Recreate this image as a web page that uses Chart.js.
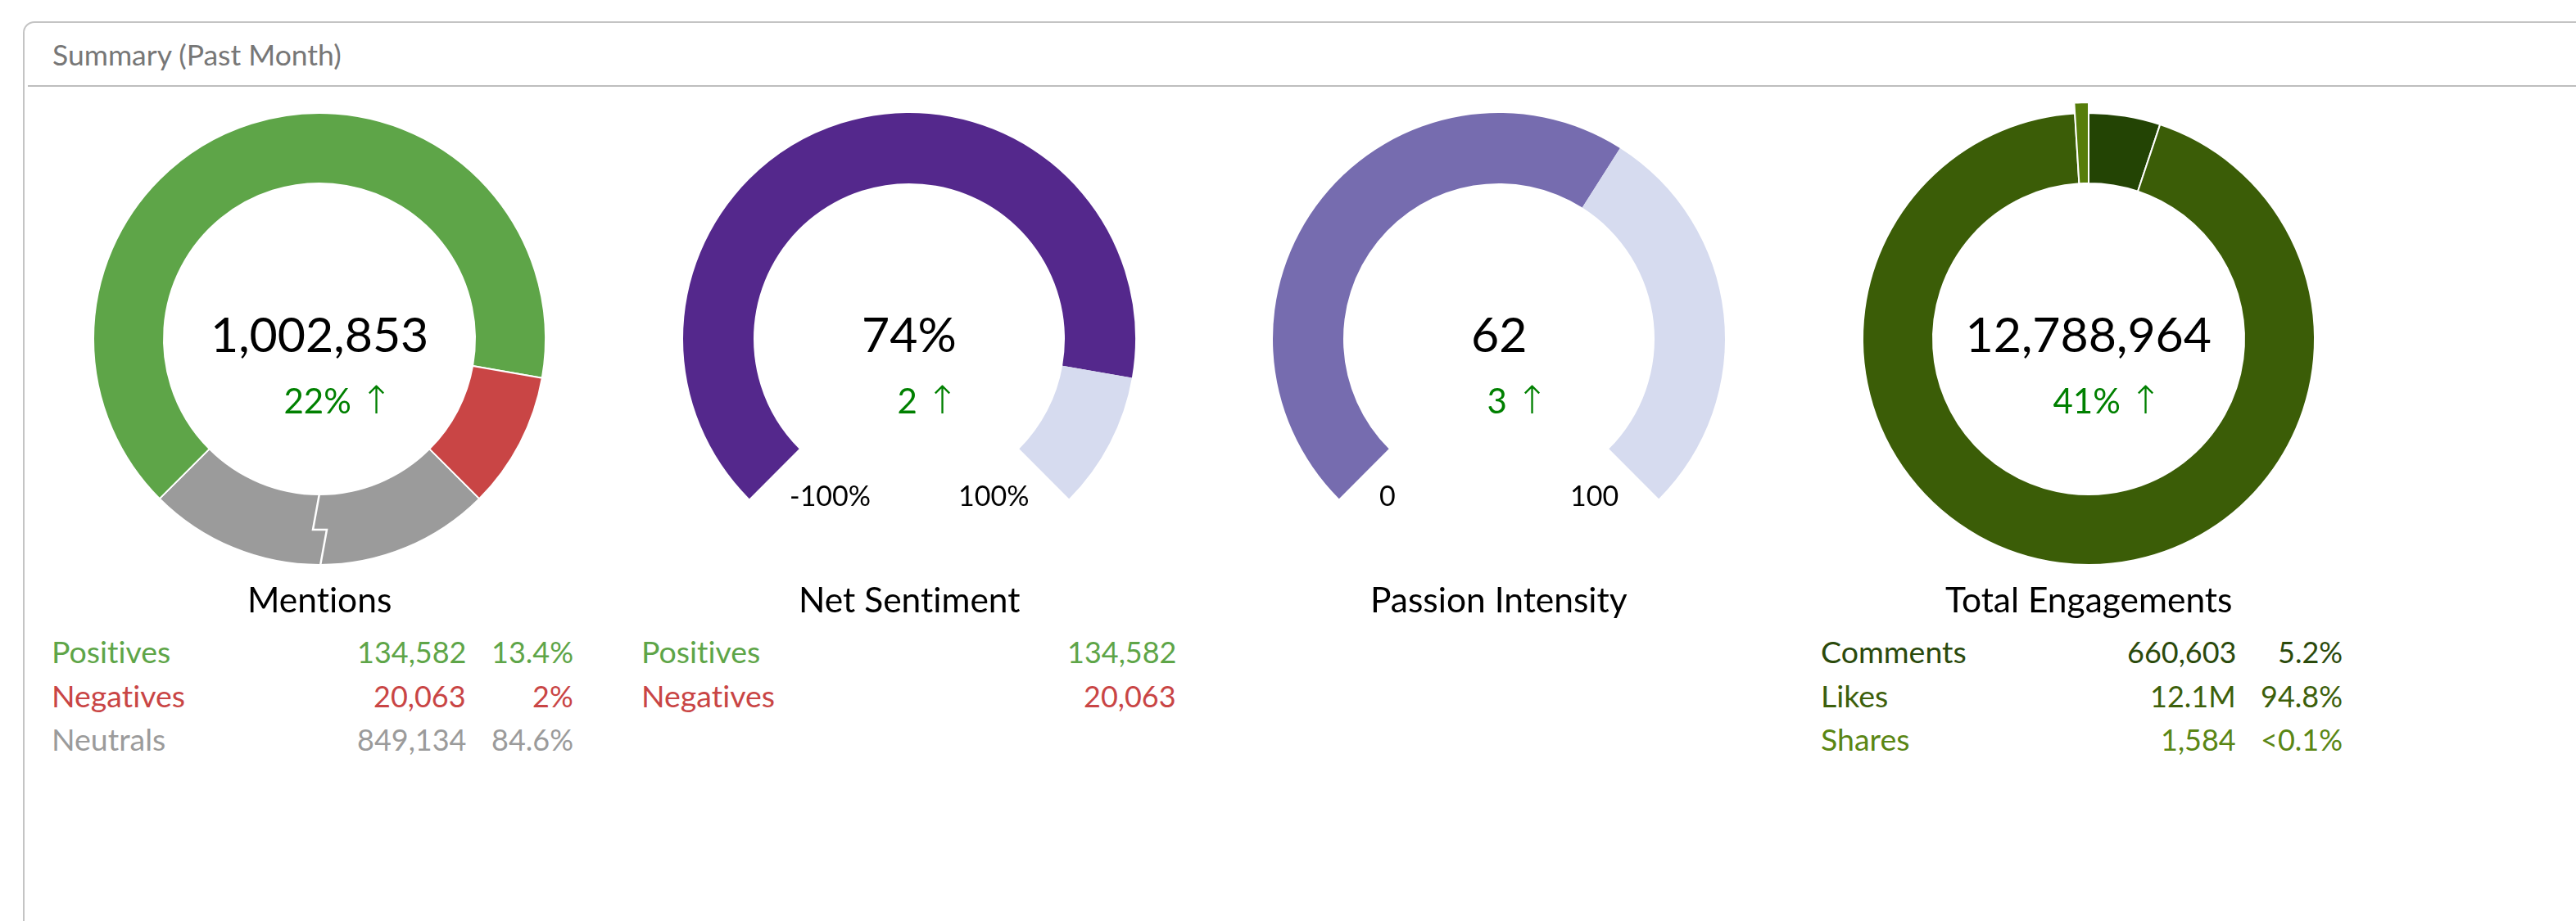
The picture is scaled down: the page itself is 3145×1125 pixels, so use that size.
<!DOCTYPE html>
<html>
<head>
<meta charset="utf-8">
<title>Summary (Past Month)</title>
<script src="https://cdn.jsdelivr.net/npm/chart.js@4.4.1/dist/chart.umd.min.js"></script>
<style>
  html, body { margin: 0; padding: 0; background: #fff; }
  body { width: 3145px; height: 1125px; overflow: hidden; position: relative; font-family: Lato, "Noto Sans", sans-serif; font-variant-ligatures: none; }
  #panel { position: absolute; left: 28px; top: 26px; width: 3300px; height: 1300px; border: 2px solid #c4c4c4; border-radius: 14px; box-sizing: border-box; }
  #rule { position: absolute; left: 34px; top: 104px; width: 3200px; height: 2px; background: #bebebe; }
  .chart { position: absolute; width: 640px; height: 640px; }
  .chart canvas { position: absolute; left: 0; top: 0; }
  .txt { position: absolute; white-space: nowrap; line-height: 1; }
  .arrow { font-family: "DejaVu Sans"; font-weight: 200; font-size: 1.12em; }
</style>
</head>
<body>
<div id="panel"></div>
<div id="rule"></div>
<script>
// ---- data ----
const panelTitle = 'Summary (Past Month)';

const mentionLabels = ['Positives', 'Negatives', 'Neutrals'];
const mentionValues = [134582, 20063, 849134];
const mentionShares = ['13.4%', '2%', '84.6%'];
const mentionTotal = 1002853;
const mentionChange = '22%';

const sentimentLabels = ['Positives', 'Negatives'];
const sentimentValues = [134582, 20063];
const sentimentScore = 74;
const sentimentRange = [-100, 100];
const sentimentTicks = ['-100%', '100%'];
const sentimentChange = '2';

const passionScore = 62;
const passionRange = [0, 100];
const passionTicks = ['0', '100'];
const passionChange = '3';

const engageLabels = ['Comments', 'Likes', 'Shares'];
const engageValues = [660603, 12126777, 1584];
const engageShown = ['660,603', '12.1M', '1,584'];
const engageShares = ['5.2%', '94.8%', '<0.1%'];
const engageTotal = 12788964;
const engageChange = '41%';

// ---- look ----
const mentionColors = ['#5ea548', '#c94545', '#9b9b9b'];
const engageColors = ['#234404', '#3b5d07', '#567d0a'];
const engageText = ['#2b4a0c', '#3d5f0b', '#5a8614'];
const sentimentColor = '#54288c';
const passionColor = '#766caf';
const trackColor = '#d6dbef';
const upColor = '#008000';

const SIZE = 640, RO = 276, RI = 190, CY = 414;
const colX = [390, 1110, 1830, 2550];

Chart.defaults.animation = false;
Chart.defaults.events = [];
Chart.defaults.plugins.legend.display = false;
Chart.defaults.plugins.tooltip.enabled = false;

// keep partial rings centred on the canvas (chart.js shifts them otherwise)
const centerFix = {
  id: 'centerFix',
  beforeDatasetsDraw(chart) {
    const a = chart.chartArea;
    const cx = (a.left + a.right) / 2, cy = (a.top + a.bottom) / 2;
    chart.getSortedVisibleDatasetMetas().forEach(m => m.data.forEach(el => { el.x = cx; el.y = cy; }));
  }
};

// the "compressed" mark across the neutral slice
const breakMark = {
  id: 'breakMark',
  afterDatasetsDraw(chart) {
    const el = chart.getDatasetMeta(0).data[0];
    const a = (el.startAngle + el.endAngle) / 2;
    const ux = Math.cos(a), uy = Math.sin(a), vx = Math.sin(a), vy = -Math.cos(a);
    const mid = (el.innerRadius + el.outerRadius) / 2;
    const pts = [[0, el.innerRadius - 1], [-8, mid], [9, mid], [1, el.outerRadius + 1]];
    const ctx = chart.ctx;
    ctx.save();
    ctx.strokeStyle = '#fff';
    ctx.lineWidth = 2.5;
    ctx.beginPath();
    pts.forEach(([t, r], i) => {
      const x = el.x + r * ux + t * vx, y = el.y + r * uy + t * vy;
      i ? ctx.lineTo(x, y) : ctx.moveTo(x, y);
    });
    ctx.stroke();
    ctx.restore();
  }
};

function ring(cx, opts) {
  const box = document.createElement('div');
  box.className = 'chart';
  box.style.left = (cx - SIZE / 2) + 'px';
  box.style.top = (CY - SIZE / 2) + 'px';
  document.body.appendChild(box);
  opts.forEach(o => {
    const cv = document.createElement('canvas');
    cv.width = SIZE; cv.height = SIZE;
    box.appendChild(cv);
    const outer = o.radius || RO;
    new Chart(cv.getContext('2d'), {
      type: 'doughnut',
      data: {
        labels: o.labels,
        datasets: [{
          data: o.data,
          backgroundColor: o.colors,
          borderColor: '#fff',
          borderWidth: o.border,
        }]
      },
      options: {
        responsive: false,
        radius: outer,
        cutout: (RI / outer * 100) + '%',
        rotation: o.rotation,
        circumference: o.circumference,
        layout: { padding: 0 },
      },
      plugins: [centerFix].concat(o.plugins || [])
    });
  });
}

// text placed by its baseline
function text(parts, x, y, size, color, align) {
  const el = document.createElement('div');
  el.className = 'txt';
  el.style.fontSize = size + 'px';
  el.style.color = color;
  [].concat(parts).forEach(p => {
    const s = document.createElement('span');
    if (typeof p === 'string') s.textContent = p;
    else { s.textContent = p.t; s.className = p.c; }
    el.appendChild(s);
  });
  const probe = document.createElement('span');
  probe.style.cssText = 'display:inline-block;width:0;height:0;vertical-align:baseline';
  el.appendChild(probe);
  el.style.left = '0px'; el.style.top = '0px';
  document.body.appendChild(el);
  const base = probe.offsetTop, w = el.offsetWidth;
  el.style.top = (y - base) + 'px';
  el.style.left = (align === 'center' ? x - w / 2 : align === 'right' ? x - w : x) + 'px';
}

const fmt = v => v.toLocaleString('en-US');

function centre(cx, big, change, title) {
  text(big, cx, 430, 59, '#000', 'center');
  text([change + ' ', { t: '\u2191', c: 'arrow' }], cx + 23, 505, 42, upColor, 'center');
  text(title, cx, 748, 42.5, '#000', 'center');
}

const rowY = [810, 864, 917];
const LBL = 37.5, NUM = 36;

// ---- header ----
text(panelTitle, 64, 80, 35.5, '#777', 'left');

// ---- Mentions ----
ring(colX[0], [
  { labels: mentionLabels.slice(2), data: mentionValues.slice(2), colors: mentionColors.slice(2),
    rotation: 135, circumference: 90, border: 2, plugins: [breakMark] },
  { labels: mentionLabels.slice(0, 2), data: mentionValues.slice(0, 2), colors: mentionColors.slice(0, 2),
    rotation: -135, circumference: 270, border: 2 },
]);
centre(colX[0], fmt(mentionTotal), mentionChange, 'Mentions');
mentionLabels.forEach((l, i) => {
  text(l, colX[0] - 327, rowY[i], LBL, mentionColors[i], 'left');
  text(fmt(mentionValues[i]), colX[0] + 179, rowY[i], NUM, mentionColors[i], 'right');
  text(mentionShares[i], colX[0] + 310, rowY[i], NUM, mentionColors[i], 'right');
});

// ---- Net Sentiment ----
ring(colX[1], [
  { labels: ['Score', ''], data: [sentimentScore - sentimentRange[0], sentimentRange[1] - sentimentScore],
    colors: [sentimentColor, trackColor], rotation: -135, circumference: 270, border: 0 },
]);
centre(colX[1], sentimentScore + '%', sentimentChange, 'Net Sentiment');
text(sentimentTicks[0], colX[1] - 146, 618, 34, '#000', 'left');
text(sentimentTicks[1], colX[1] + 146, 618, 34, '#000', 'right');
sentimentLabels.forEach((l, i) => {
  text(l, colX[1] - 327, rowY[i], LBL, mentionColors[i], 'left');
  text(fmt(sentimentValues[i]), colX[1] + 326, rowY[i], NUM, mentionColors[i], 'right');
});

// ---- Passion Intensity ----
ring(colX[2], [
  { labels: ['Score', ''], data: [passionScore - passionRange[0], passionRange[1] - passionScore],
    colors: [passionColor, trackColor], rotation: -135, circumference: 270, border: 0 },
]);
centre(colX[2], String(passionScore), passionChange, 'Passion Intensity');
text(passionTicks[0], colX[2] - 146, 618, 34, '#000', 'left');
text(passionTicks[1], colX[2] + 146, 618, 34, '#000', 'right');

// ---- Total Engagements ----
ring(colX[3], [
  { labels: engageLabels.slice(0, 2), data: engageValues.slice(0, 2), colors: engageColors.slice(0, 2),
    rotation: 0, circumference: 356.5, border: 2 },
  // shares is too small to see, so it is drawn as a raised minimum-width slice
  { labels: engageLabels.slice(2), data: engageValues.slice(2), colors: engageColors.slice(2),
    rotation: -3.5, circumference: 3.5, radius: 289, border: 2 },
]);
centre(colX[3], fmt(engageTotal), engageChange, 'Total Engagements');
engageLabels.forEach((l, i) => {
  text(l, colX[3] - 327, rowY[i], LBL, engageText[i], 'left');
  text(engageShown[i], colX[3] + 180, rowY[i], NUM, engageText[i], 'right');
  text(engageShares[i], colX[3] + 310, rowY[i], NUM, engageText[i], 'right');
});
</script>
</body>
</html>
